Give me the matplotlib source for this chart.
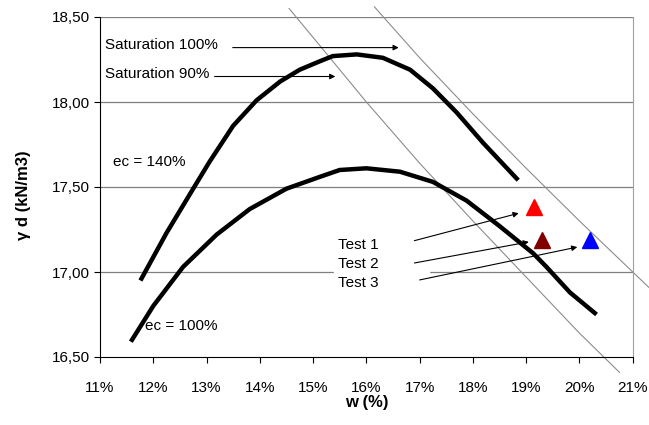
import matplotlib
matplotlib.use("Agg")
import matplotlib.pyplot as plt
from matplotlib.patches import Rectangle
from matplotlib.ticker import FuncFormatter

plt.rcParams['font.family'] = ['Liberation Sans', 'DejaVu Sans']

# compaction curves (w in %, gamma d in kN/m3)
w_ec140 = [11.76, 12.25, 12.75, 13.06, 13.50, 13.94, 14.38, 14.75, 15.13,
           15.37, 15.82, 16.31, 16.82, 17.25, 17.69, 18.19, 18.85]
g_ec140 = [16.95, 17.23, 17.49, 17.65, 17.86, 18.01, 18.12, 18.19, 18.24,
           18.27, 18.28, 18.26, 18.19, 18.08, 17.94, 17.76, 17.54]

w_ec100 = [11.58, 12.0, 12.56, 13.19, 13.81, 14.50, 15.13, 15.5, 16.0,
           16.63, 17.25, 17.88, 18.50, 19.13, 19.38, 19.82, 20.32]
g_ec100 = [16.59, 16.80, 17.03, 17.22, 17.37, 17.49, 17.56, 17.60, 17.61,
           17.59, 17.53, 17.42, 17.27, 17.11, 17.03, 16.88, 16.75]

# saturation lines
w_sat100 = [16.15, 17.0, 18.0, 19.0, 20.0, 21.0, 21.3]
g_sat100 = [18.56, 18.26, 17.93, 17.61, 17.30, 17.00, 16.91]
w_sat90 = [14.55, 15.0, 16.0, 17.0, 18.0, 19.0, 20.0, 20.75]
g_sat90 = [18.55, 18.38, 18.00, 17.64, 17.30, 16.97, 16.64, 16.41]

# test points
test_names = ["Test 1", "Test 2", "Test 3"]
test_w = [19.15, 19.30, 20.20]
test_g = [17.38, 17.19, 17.19]
test_colors = ["#ff0000", "#800000", "#0000ff"]

fig = plt.figure(figsize=(6.49, 4.25), dpi=100)
ax = fig.add_axes([0.154, 0.16, 0.821, 0.80])

ax.set_xlim(11, 21)
ax.set_ylim(16.5, 18.5)
ax.set_xticks(range(11, 22))
ax.set_yticks([16.5, 17.0, 17.5, 18.0, 18.5])
ax.xaxis.set_major_formatter(FuncFormatter(lambda v, p: "%d%%" % round(v)))
ax.yaxis.set_major_formatter(FuncFormatter(lambda v, p: ("%.2f" % v).replace(".", ",")))
ax.tick_params(direction="out", length=4, width=0.8, labelsize=11, colors="black")
ax.tick_params(axis="x", pad=13)
ax.tick_params(axis="y", pad=3)

for y in [17.0, 17.5, 18.0, 18.5]:
    ax.axhline(y, color="#7f7f7f", lw=0.9, zorder=1)
ax.spines["top"].set_visible(False)
ax.spines["right"].set_color("#a0a0a0")
ax.spines["left"].set_color("black")
ax.spines["bottom"].set_color("black")

ax.plot(w_sat100, g_sat100, color="#8c8c8c", lw=0.8, clip_on=False, zorder=2)
ax.plot(w_sat90, g_sat90, color="#8c8c8c", lw=0.8, clip_on=False, zorder=2)

ax.plot(w_ec140, g_ec140, color="black", lw=3.2, solid_capstyle="butt",
        solid_joinstyle="round", zorder=4)
ax.plot(w_ec100, g_ec100, color="black", lw=3.2, solid_capstyle="butt",
        solid_joinstyle="round", zorder=4)

for w, g, c in zip(test_w, test_g, test_colors):
    ax.plot(w, g, marker="^", color=c, markersize=12, zorder=5)

arrow = dict(arrowstyle="-|>", color="black", lw=0.8, mutation_scale=8)
ax.annotate("", xy=(16.66, 18.32), xytext=(13.44, 18.32), arrowprops=arrow, zorder=6)
ax.annotate("", xy=(15.47, 18.15), xytext=(13.1, 18.15), arrowprops=arrow, zorder=6)
ax.text(11.09, 18.335, "Saturation 100%", fontsize=11, va="center", zorder=6)
ax.text(11.09, 18.165, "Saturation 90%", fontsize=11, va="center", zorder=6)
ax.text(11.24, 17.645, "ec = 140%", fontsize=11, va="center", zorder=6)
ax.text(11.84, 16.685, "ec = 100%", fontsize=11, va="center", zorder=6)

# white box behind the test labels
ax.add_patch(Rectangle((15.4, 16.88), 1.77, 0.33, color="white", zorder=2))
test_text_y = [17.16, 17.05, 16.935]
test_start = [(16.85, 17.18), (16.85, 17.05), (16.95, 16.95)]
test_end = [(18.91, 17.35), (19.10, 17.18), (20.01, 17.15)]
for name, ty, s, e in zip(test_names, test_text_y, test_start, test_end):
    ax.text(15.47, ty, name, fontsize=11, va="center", zorder=6)
    ax.annotate("", xy=e, xytext=s, arrowprops=arrow, zorder=6)

ax.set_xlabel("w (%)", fontsize=12, fontweight="bold", labelpad=0)
ax.set_ylabel("γ d (kN/m3)", fontsize=12, fontweight="bold")
ax.yaxis.set_label_coords(-0.129, 0.476)

fig.savefig("out.png", dpi=100)
